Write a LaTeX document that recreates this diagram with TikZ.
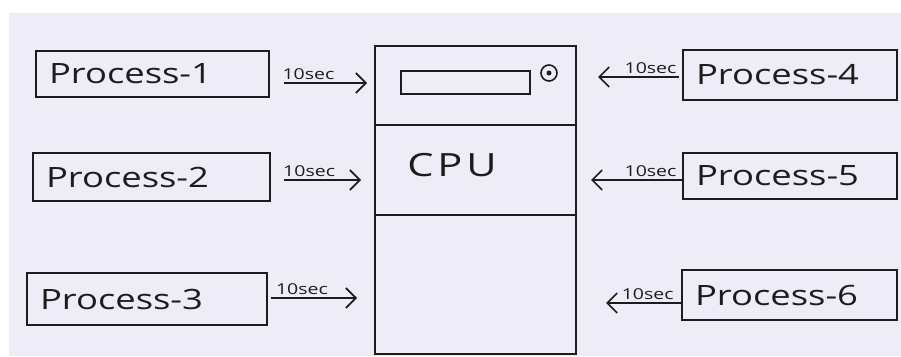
\documentclass[tikz,border=0pt]{standalone}
\usepackage{fontspec}
\setmainfont{Open Sans}
\newfontfamily\hand[FakeStretch=1.3]{Open Sans}
\newfontfamily\handwide[FakeStretch=1.3,LetterSpace=12]{Open Sans}
\usetikzlibrary{arrows.meta,calc}
\definecolor{paper}{HTML}{EEECF6}
\definecolor{ink}{HTML}{1C1C1C}
\tikzset{
  pbox/.style={draw=ink, line width=2pt, inner xsep=13pt, inner ysep=0pt, align=left,
    font=\hand\fontsize{28}{30}\selectfont, text=ink},
  arr/.style={draw=ink, line width=1.8pt, -{Straight Barb[length=10pt,width=20pt,line width=1.6pt]}},
  lbl/.style={font=\hand\fontsize{15}{16}\selectfont, text=ink, inner sep=2pt},
}
\begin{document}
\begin{tikzpicture}[x=1pt,y=-1pt]
\useasboundingbox (0,0) rectangle (901,356);
\fill[white] (0,0) rectangle (901,356);
\fill[paper] (9,13) rectangle (901,356);
% process boxes
\node[pbox, minimum height=46pt, text width=207pt] (p1) at (152.5,74) {Process-1};
\node[pbox, minimum height=48pt, text width=211pt] (p2) at (151.5,177) {Process-2};
\node[pbox, minimum height=52pt, text width=214pt] (p3) at (147,299) {Process-3};
\node[pbox, minimum height=50pt, text width=188pt] (p4) at (790,75) {Process-4};
\node[pbox, minimum height=46pt, text width=188pt] (p5) at (790,176) {Process-5};
\node[pbox, minimum height=50pt, text width=189pt] (p6) at (789.5,295) {Process-6};
% CPU
\node[draw=ink, line width=2pt, minimum width=201pt, minimum height=308pt, inner sep=0pt] (cpu) at (475.5,200) {};
\coordinate (d1) at (0,125);
\coordinate (d2) at (0,215);
\draw[ink, line width=2pt] (cpu.west |- d1) -- (cpu.east |- d1);
\draw[ink, line width=2pt] (cpu.west |- d2) -- (cpu.east |- d2);
\node[draw=ink, line width=1.8pt, minimum width=129pt, minimum height=23pt, inner sep=0pt] (scr) at (465.5,82.5) {};
\node[draw=ink, line width=1.6pt, circle, minimum size=16pt, inner sep=0pt] (btn) at (549,73) {};
\node[fill=ink, circle, minimum size=5pt, inner sep=0pt] (btnc) at (btn.center) {};
\node[font=\handwide\fontsize{32}{34}\selectfont, text=ink] (cputext) at (452,165) {CPU};
% arrows
\coordinate (y1) at (0,83);
\coordinate (y2) at (0,180);
\coordinate (y3) at (0,298);
\coordinate (y4) at (0,77);
\coordinate (y5) at (0,180);
\coordinate (y6) at (0,303);
\draw[arr, shorten <=14pt, shorten >=7pt] (p1.east |- y1) -- node[lbl, above, pos=0.37] (l1) {10sec} (cpu.west |- y1);
\draw[arr, shorten <=13pt, shorten >=13pt] (p2.east |- y2) -- node[lbl, above, pos=0.37] (l2) {10sec} (cpu.west |- y2);
\draw[arr, shorten <=3pt, shorten >=17pt] (p3.east |- y3) -- node[lbl, above, pos=0.32] (l3) {10sec} (cpu.west |- y3);
\draw[arr, shorten <=3pt, shorten >=21pt] (p4.west |- y4) -- node[lbl, above, pos=0.3] (l4) {10sec} (cpu.east |- y4);
\draw[arr, shorten <=0pt, shorten >=14pt] (p5.west |- y5) -- node[lbl, above, pos=0.3] (l5) {10sec} (cpu.east |- y5);
\draw[arr, shorten <=0pt, shorten >=29pt] (p6.west |- y6) -- node[lbl, above, pos=0.32] (l6) {10sec} (cpu.east |- y6);
\end{tikzpicture}
\end{document}
